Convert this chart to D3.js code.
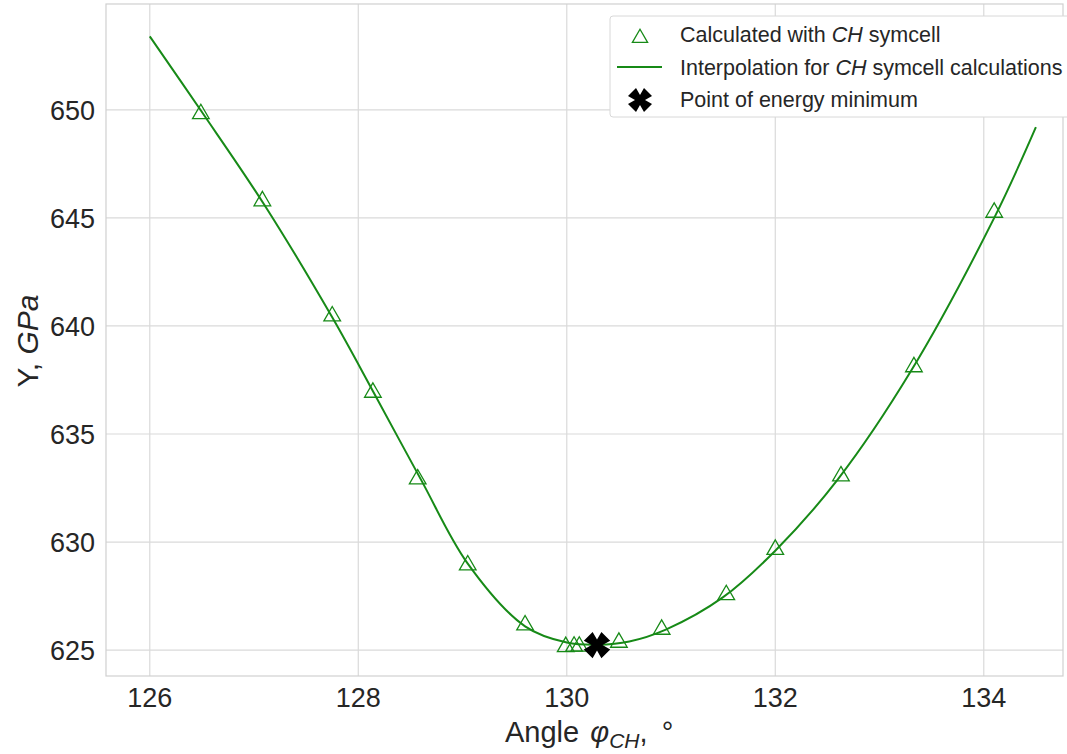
<!DOCTYPE html>
<html>
<head>
<meta charset="utf-8">
<script src="https://cdn.jsdelivr.net/npm/d3@7"></script>
<style>
  body { margin: 0; background: #fff; }
  text { font-family: "Liberation Sans", Arial, sans-serif; fill: #262626; }
</style>
</head>
<body>
<div id="chart"></div>
<script>
// calculated points (angle, Y)
const angles = [126.49, 127.08, 127.75, 128.14, 128.57, 129.05, 129.6, 129.99, 130.07, 130.12, 130.5, 130.91, 131.53, 132.0, 132.63, 133.33, 134.1];
const youngs = [649.86, 645.83, 640.5, 636.97, 632.96, 628.98, 626.2, 625.2, 625.22, 625.22, 625.4, 626.0, 627.6, 629.7, 633.1, 638.15, 645.3];

// interpolation curve
const curveX = [126.0, 126.5, 127.1, 127.75, 128.15, 128.6, 129.05, 129.6, 130.0, 130.3, 130.6, 130.95, 131.5, 132.0, 132.6, 133.3, 134.1, 134.5];
const curveY = [653.4, 649.9, 645.6, 640.4, 636.9, 632.9, 629.0, 626.1, 625.35, 625.25, 625.4, 625.95, 627.45, 629.6, 632.9, 637.9, 645.0, 649.2];

const minPoint = [130.29, 625.23];

const xTicks = [126, 128, 130, 132, 134];
const yTicks = [625, 630, 635, 640, 645, 650];

const width = 1067, height = 754;
const margin = {left: 106, right: 4, top: 4, bottom: 78};
const green = "#178a17";

const svg = d3.select("#chart").append("svg")
  .attr("width", width)
  .attr("height", height);

const x = d3.scaleLinear().domain([125.58, 134.76]).range([margin.left, width - margin.right]);
const y = d3.scaleLinear().domain([623.8, 654.9]).range([height - margin.bottom, margin.top]);

// grid
svg.append("g").selectAll("line").data(xTicks).enter().append("line")
  .attr("x1", d => x(d)).attr("x2", d => x(d))
  .attr("y1", margin.top).attr("y2", height - margin.bottom)
  .attr("stroke", "#dadada").attr("stroke-width", 1.2);
svg.append("g").selectAll("line").data(yTicks).enter().append("line")
  .attr("y1", d => y(d)).attr("y2", d => y(d))
  .attr("x1", margin.left).attr("x2", width - margin.right)
  .attr("stroke", "#dadada").attr("stroke-width", 1.2);

// frame
svg.append("rect")
  .attr("x", margin.left).attr("y", margin.top)
  .attr("width", width - margin.right - margin.left)
  .attr("height", height - margin.bottom - margin.top)
  .attr("fill", "none").attr("stroke", "#d0d0d0").attr("stroke-width", 1.2);

// tick labels
svg.append("g").selectAll("text").data(xTicks).enter().append("text")
  .attr("x", d => x(d)).attr("y", height - margin.bottom + 31)
  .attr("text-anchor", "middle").attr("font-size", 27)
  .text(d => d);
svg.append("g").selectAll("text").data(yTicks).enter().append("text")
  .attr("x", margin.left - 11).attr("y", d => y(d) + 10)
  .attr("text-anchor", "end").attr("font-size", 27)
  .text(d => d);

// axis labels
const xl = svg.append("text")
  .attr("x", 505).attr("y", 742)
  .attr("font-size", 29);
xl.append("tspan").text("Angle ");
xl.append("tspan").attr("font-style", "italic").attr("dx", 3).text("φ");
xl.append("tspan").attr("font-style", "italic").attr("font-size", 21).attr("dy", 6).text("CH");
xl.append("tspan").attr("dy", -6).text(", ");
xl.append("tspan").attr("dx", 6).text("°");

const yl = svg.append("text")
  .attr("transform", "translate(38," + 341 + ") rotate(-90)")
  .attr("text-anchor", "middle").attr("font-size", 30);
yl.append("tspan").text("Y, ");
yl.append("tspan").attr("font-style", "italic").text("GPa");

// interpolation line
const line = d3.line()
  .x((d, i) => x(curveX[i]))
  .y(d => y(d))
  .curve(d3.curveCatmullRom.alpha(0.5));
svg.append("path")
  .attr("d", line(curveY))
  .attr("fill", "none").attr("stroke", green).attr("stroke-width", 2);

// triangles
const tri = d3.symbol().type(d3.symbolTriangle).size(120);
svg.append("g").selectAll("path").data(youngs).enter().append("path")
  .attr("d", tri)
  .attr("transform", (d, i) => "translate(" + x(angles[i]) + "," + (y(d) + 1) + ")")
  .attr("fill", "none").attr("stroke", green).attr("stroke-width", 1.3);

// energy minimum X marker
const xMark = "M-4,-12 L0,-5 L4,-12 L12,-4 L5,0 L12,4 L4,12 L0,5 L-4,12 L-12,4 L-5,0 L-12,-4 Z";
svg.append("path")
  .attr("d", xMark)
  .attr("transform", "translate(" + x(minPoint[0]) + "," + y(minPoint[1]) + ") scale(1.1)")
  .attr("fill", "#000");

// legend
const lg = svg.append("g");
lg.append("rect")
  .attr("x", 610).attr("y", 16).attr("width", 470).attr("height", 101)
  .attr("rx", 3)
  .attr("fill", "#fff").attr("stroke", "#d8d8d8");
lg.append("path")
  .attr("d", d3.symbol().type(d3.symbolTriangle).size(100))
  .attr("transform", "translate(640,38)")
  .attr("fill", "none").attr("stroke", green).attr("stroke-width", 1.3);
lg.append("line")
  .attr("x1", 617).attr("x2", 662).attr("y1", 67).attr("y2", 67)
  .attr("stroke", green).attr("stroke-width", 2);
lg.append("path")
  .attr("d", xMark)
  .attr("transform", "translate(640,100)")
  .attr("fill", "#000");

const leg = [
  ["Calculated with ", "CH", " symcell"],
  ["Interpolation for ", "CH", " symcell calculations"],
  ["Point of energy minimum", "", ""]
];
leg.forEach((l, i) => {
  const t = lg.append("text").attr("x", 680).attr("y", 42 + i * 32.5).attr("font-size", 21.5);
  t.append("tspan").text(l[0]);
  if (l[1]) t.append("tspan").attr("font-style", "italic").text(l[1]);
  if (l[2]) t.append("tspan").text(l[2]);
});
</script>
</body>
</html>
